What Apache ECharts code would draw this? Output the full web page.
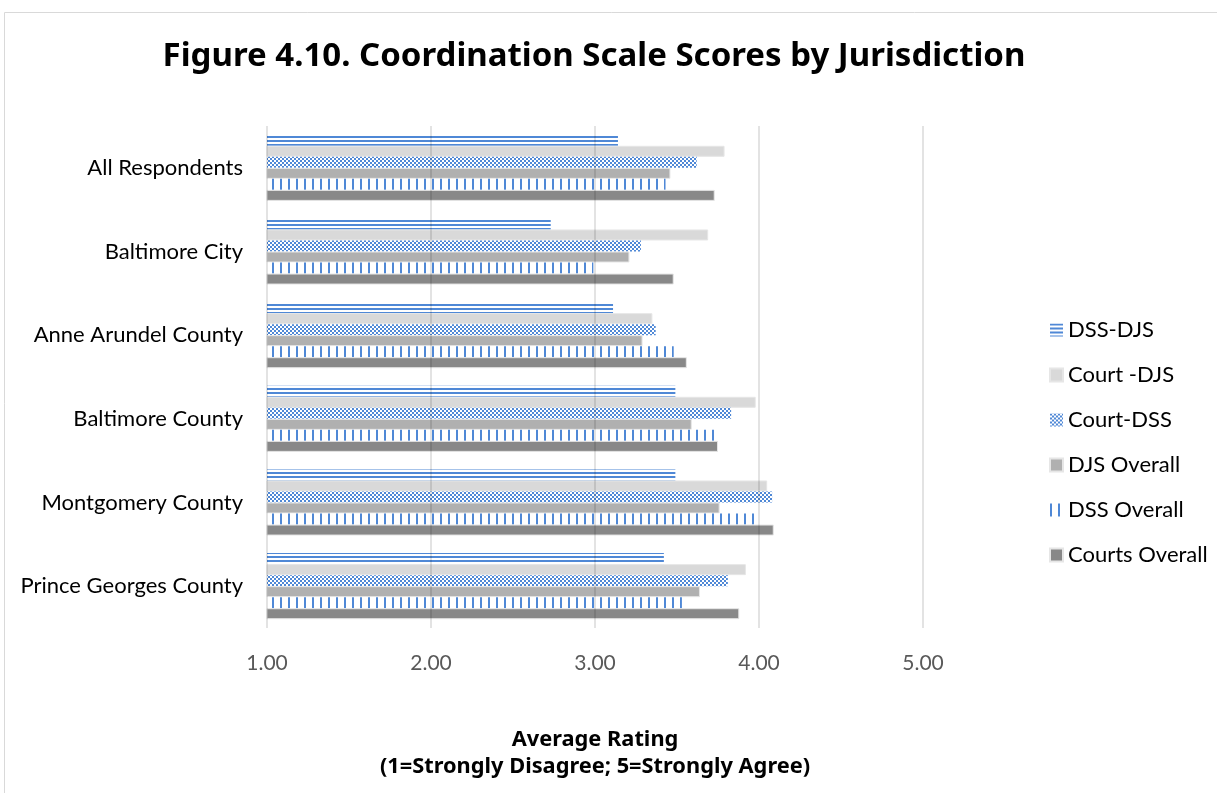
<!DOCTYPE html>
<html>
<head>
<meta charset="utf-8">
<script src="https://cdn.jsdelivr.net/npm/echarts@6/dist/echarts.min.js"></script>
<style>
  html, body { margin: 0; padding: 0; background: #fff; }
  #chart { width: 1217px; height: 793px; }
</style>
</head>
<body>
<div id="chart"></div>
<script>
const categories = ['All Respondents', 'Baltimore City', 'Anne Arundel County', 'Baltimore County', 'Montgomery County', 'Prince Georges County']
const seriesNames = ['DSS-DJS', 'Court -DJS', 'Court-DSS', 'DJS Overall', 'DSS Overall', 'Courts Overall']

const dssDjs = [3.14, 2.73, 3.11, 3.49, 3.49, 3.42]
const courtDjs = [3.79, 3.69, 3.35, 3.98, 4.05, 3.92]
const courtDss = [3.62, 3.28, 3.37, 3.83, 4.08, 3.81]
const djsOverall = [3.46, 3.21, 3.29, 3.59, 3.76, 3.64]
const dssOverall = [3.43, 2.99, 3.48, 3.73, 3.97, 3.53]
const courtsOverall = [3.73, 3.48, 3.56, 3.75, 4.09, 3.88]

const xTicks = [1, 2, 3, 4, 5]

const BLUE = '#4f88d6'
const FONT = 'Lato, "Noto Sans", sans-serif'
const BOLD_FONT = '"Noto Sans", sans-serif'

function makePattern(w, h, draw) {
  const c = document.createElement('canvas')
  c.width = w
  c.height = h
  const ctx = c.getContext('2d')
  ctx.fillStyle = '#fff'
  ctx.fillRect(0, 0, w, h)
  ctx.fillStyle = BLUE
  draw(ctx)
  return { image: c, repeat: 'repeat' }
}

const hLines = makePattern(4, 4, ctx => ctx.fillRect(0, 0, 4, 2))
const checker = makePattern(4, 4, ctx => { ctx.fillRect(0, 0, 2, 2); ctx.fillRect(2, 2, 2, 2) })
const vLines = makePattern(8, 4, ctx => ctx.fillRect(0, 0, 2, 4))

const fills = [hLines, '#d9d9d9', checker, '#b0b0b0', vLines, '#888888']
const values = [dssDjs, courtDjs, courtDss, djsOverall, dssOverall, courtsOverall]

const chart = echarts.init(document.getElementById('chart'), null, { renderer: 'canvas' })

const series = seriesNames.map((name, i) => ({
  name,
  type: 'bar',
  data: values[i],
  barGap: '0%',
  barCategoryGap: '21%',
  itemStyle: typeof fills[i] === 'string'
    ? { color: fills[i], borderColor: '#e6e6e6', borderWidth: 1 }
    : { color: fills[i] },
}))

chart.setOption({
  animation: false,
  textStyle: { fontFamily: FONT },
  graphic: [
    {
      type: 'rect',
      shape: { x: 4.5, y: 12.5, width: 1230, height: 800 },
      style: { fill: 'none', stroke: '#d9d9d9', lineWidth: 1 },
      silent: true,
    },
    {
      type: 'text',
      x: 594,
      y: 57,
      style: {
        text: 'Figure 4.10. Coordination Scale Scores by Jurisdiction',
        font: 'bold 33px ' + BOLD_FONT,
        fill: '#000',
        textAlign: 'center',
        textVerticalAlign: 'middle',
      },
    },
  ],
  legend: {
    orient: 'vertical',
    left: 1044,
    top: 313,
    itemWidth: 13,
    itemHeight: 13,
    itemGap: 21,
    icon: 'rect',
    data: seriesNames,
    textStyle: { color: '#000', fontSize: 22, lineHeight: 24, fontFamily: FONT },
  },
  grid: { left: 267, right: 294, top: 126, bottom: 165, containLabel: false },
  xAxis: {
    type: 'value',
    min: 1,
    max: 5,
    interval: 1,
    z: 5,
    axisLine: { show: false },
    axisTick: { show: false },
    axisLabel: {
      color: '#595959',
      fontSize: 21,
      margin: 25,
      formatter: v => xTicks.includes(v) ? v.toFixed(2) : '',
    },
    splitLine: { lineStyle: { color: 'rgba(0,0,0,0.15)', width: 1.5 } },
    name: 'Average Rating\n(1=Strongly Disagree; 5=Strongly Agree)',
    nameLocation: 'middle',
    nameGap: 98,
    nameTextStyle: { color: '#000', fontSize: 21.8, fontWeight: 'bold', lineHeight: 27, fontFamily: BOLD_FONT },
  },
  yAxis: {
    type: 'category',
    inverse: true,
    data: categories,
    axisLine: { show: false },
    axisTick: { show: false },
    axisLabel: { color: '#000', fontSize: 22, margin: 24 },
  },
  series,
})
</script>
</body>
</html>
